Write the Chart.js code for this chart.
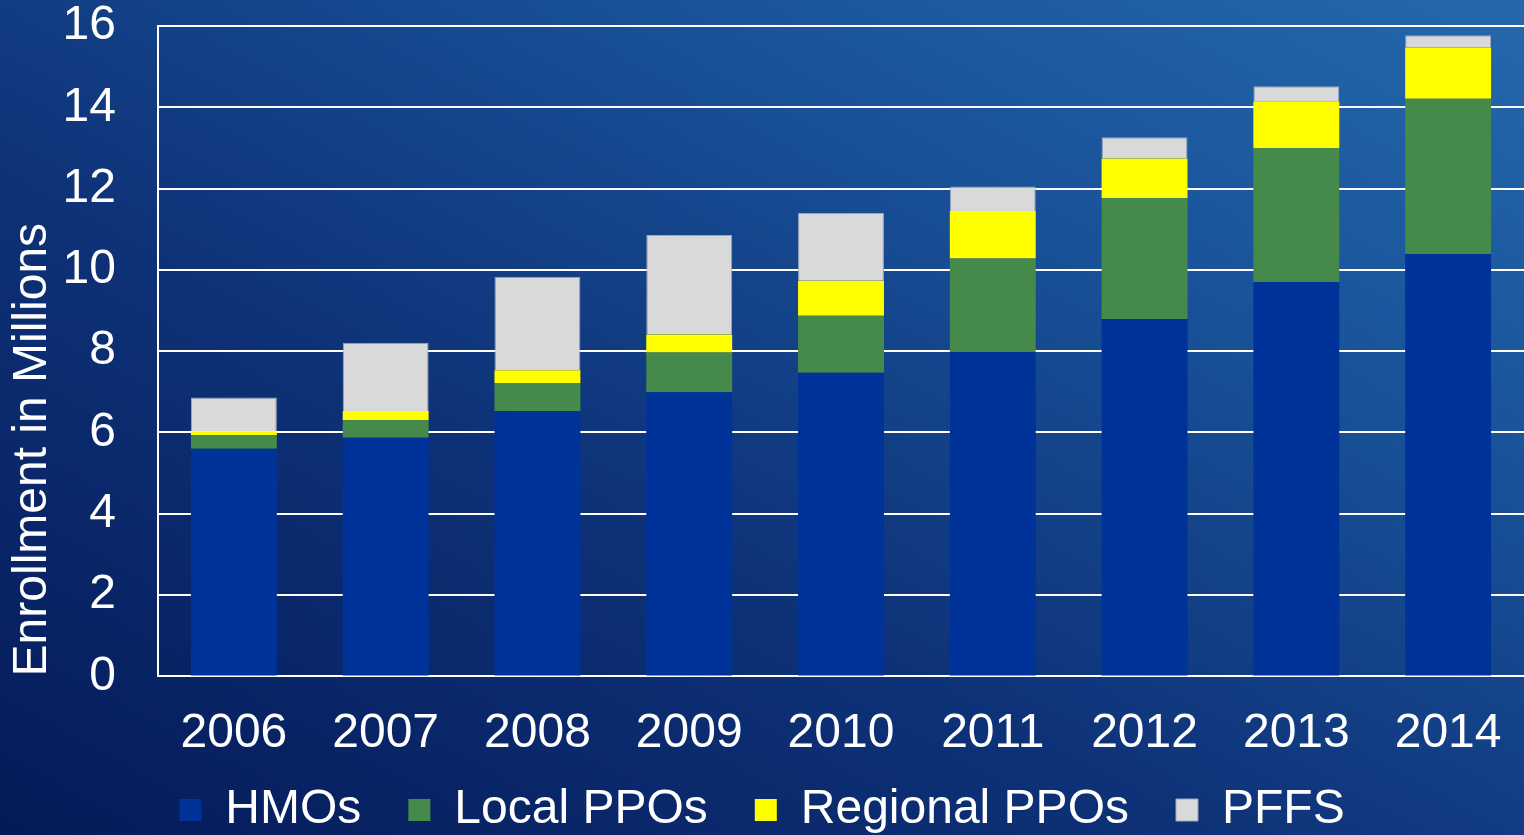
<!DOCTYPE html>
<html>
<head>
<meta charset="utf-8">
<script src="https://cdn.jsdelivr.net/npm/chart.js@4/dist/chart.umd.min.js"></script>
<style>
    html, body { margin: 0; padding: 0; }
    #wrap {
        width: 1524px; height: 835px;
        background: linear-gradient(to top right, #041a58 0%, #0e3278 40%, #1a559c 75%, #2468ab 100%);
    }
</style>
</head>
<body>
<div id="wrap"><canvas id="enrollChart" width="1524" height="835"></canvas></div>
<script>
// Medicare Advantage enrollment (millions), stacked by plan type
const years = ['2006', '2007', '2008', '2009', '2010', '2011', '2012', '2013', '2014'];
const hmos = [5.60, 5.87, 6.52, 6.99, 7.47, 7.98, 8.79, 9.70, 10.39];
const localPpos = [0.33, 0.43, 0.70, 0.98, 1.40, 2.30, 2.97, 3.30, 3.82];
const regionalPpos = [0.10, 0.23, 0.31, 0.44, 0.86, 1.17, 0.98, 1.15, 1.26];
const pffs = [0.83, 1.68, 2.30, 2.45, 1.67, 0.60, 0.52, 0.37, 0.30];
const yTicks = [0, 2, 4, 6, 8, 10, 12, 14, 16];

const FONT = "'Liberation Sans', Arial, sans-serif";
const CLEAR = 'rgba(0,0,0,0)';
Chart.defaults.font.family = FONT;
Chart.defaults.color = '#ffffff';

new Chart(document.getElementById('enrollChart').getContext('2d'), {
    type: 'bar',
    data: {
        labels: years,
        datasets: [
            { label: 'HMOs', data: hmos, backgroundColor: '#003399', borderWidth: 0 },
            { label: 'Local PPOs', data: localPpos, backgroundColor: '#468a4b', borderWidth: 0 },
            { label: 'Regional PPOs', data: regionalPpos, backgroundColor: '#ffff00', borderWidth: 0 },
            { label: 'PFFS', data: pffs, backgroundColor: '#d9d9d9', borderColor: '#9aa6b8', borderWidth: 1, borderSkipped: 'start' }
        ]
    },
    options: {
        responsive: false,
        animation: false,
        layout: { padding: 0 },
        datasets: { bar: { barPercentage: 0.566, categoryPercentage: 1 } },
        plugins: {
            tooltip: { enabled: false },
            legend: {
                position: 'bottom',
                maxHeight: 72,
                labels: {
                    color: '#ffffff',
                    font: { size: 48, family: FONT },
                    boxWidth: 22,
                    boxHeight: 22,
                    padding: 23,
                    // wider gap between entries than the vertical padding allows
                    generateLabels: (chart) => {
                        const items = Chart.defaults.plugins.legend.labels.generateLabels(chart);
                        items.forEach((it, i) => { if (i < items.length - 1) it.text += '\u2002'; });
                        return items;
                    }
                }
            }
        },
        scales: {
            x: {
                stacked: true,
                grid: { display: false, drawTicks: true, tickLength: 29, tickColor: CLEAR },
                border: { display: true, color: '#ffffff', width: 2 },
                ticks: { color: '#ffffff', font: { size: 48, family: FONT }, padding: 0, maxRotation: 0 }
            },
            y: {
                stacked: true,
                min: 0,
                max: 16,
                afterBuildTicks: (scale) => { scale.ticks = yTicks.map(v => ({ value: v })); },
                grid: { color: '#ffffff', lineWidth: 2, drawTicks: true, tickLength: 42, tickColor: CLEAR },
                border: { display: true, color: '#ffffff', width: 2 },
                ticks: { color: '#ffffff', font: { size: 48, family: FONT, lineHeight: 1.083 }, padding: 0 },
                title: {
                    display: true,
                    text: 'Enrollment in Millions',
                    align: 'start',
                    color: '#ffffff',
                    font: { size: 48, family: FONT }
                },
                afterFit: (scale) => { scale.width = 158; }
            }
        }
    }
});
</script>
</body>
</html>
